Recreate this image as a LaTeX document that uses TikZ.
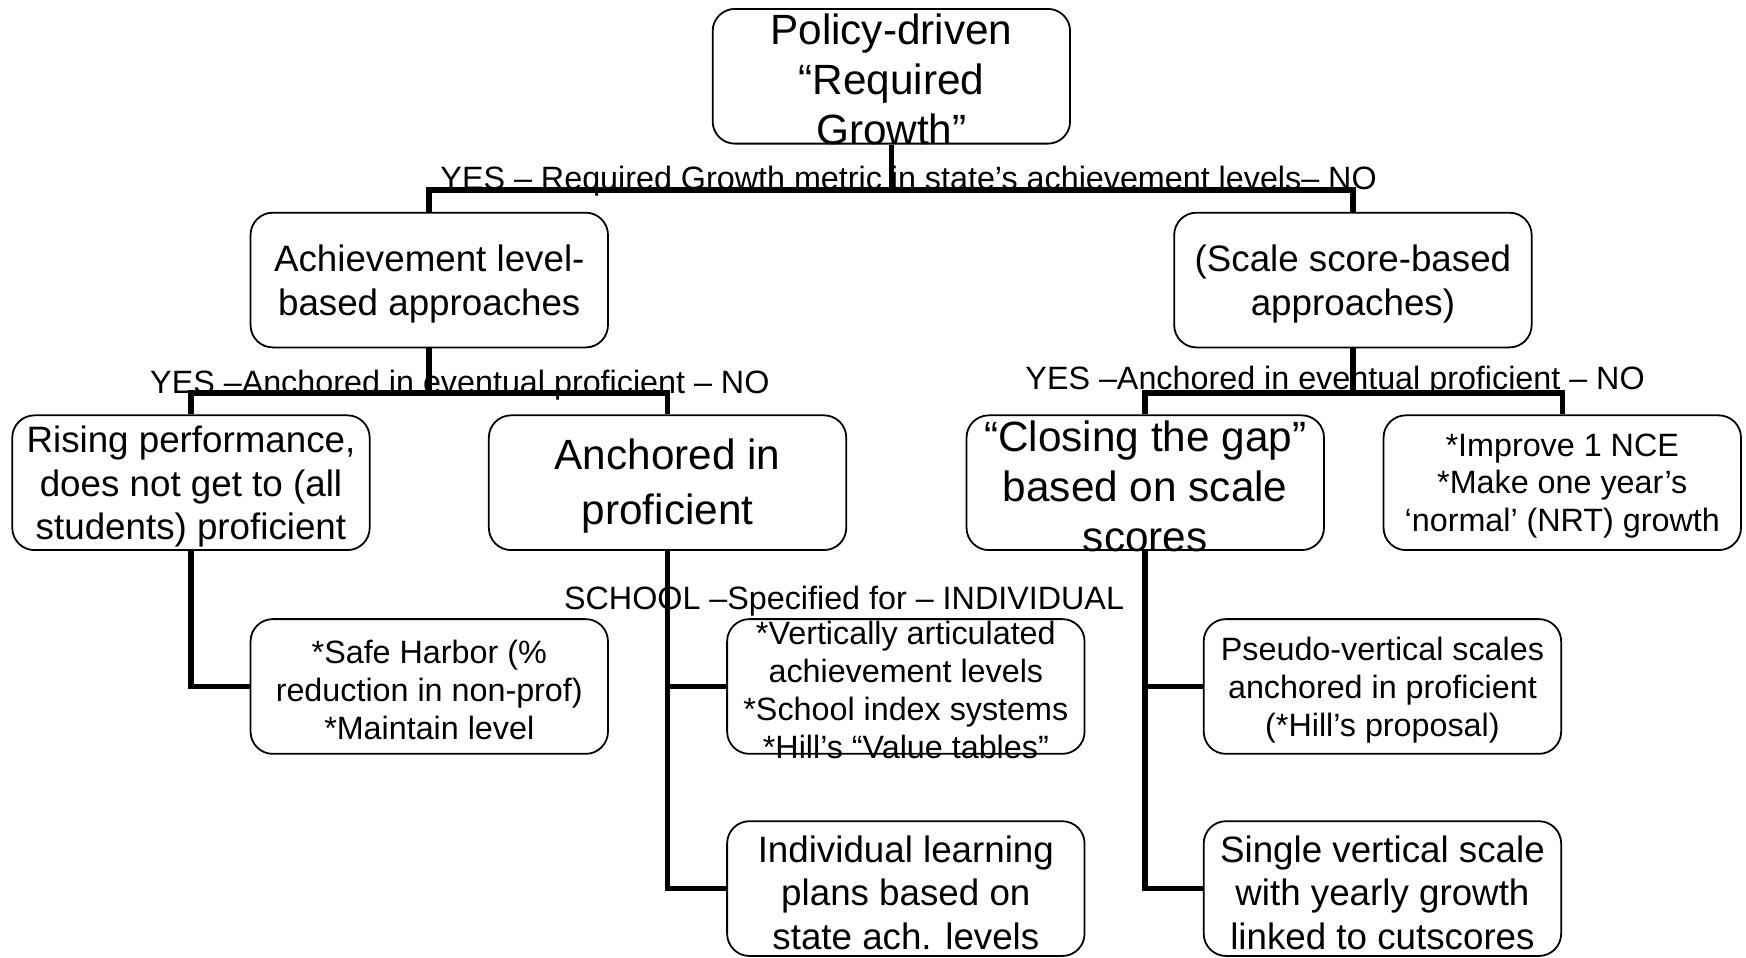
\documentclass[tikz,border=0pt]{standalone}
\usepackage{fontspec}
\setmainfont{Liberation Sans}
\usepackage{tikz}

\tikzset{
  box/.style={draw=black, line width=0.8pt, rounded corners=10pt,
    minimum width=160.5pt, minimum height=60.5pt},
  bigtxt/.style={align=center, yshift=-1.5pt, font=\fontsize{19pt}{22.5pt}\selectfont},
  medtxt/.style={align=center, yshift=-1.8pt, font=\fontsize{16.5pt}{19.5pt}\selectfont},
  smalltxt/.style={align=center, yshift=-1.5pt, font=\fontsize{14.5pt}{17pt}\selectfont},
  lbl/.style={font=\fontsize{14.5pt}{17pt}\selectfont, inner sep=0pt},
  conn/.style={line width=2.5pt}
}

\begin{document}
\begin{tikzpicture}[x=0.5pt, y=-0.5pt]
    \fill[white] (0,0) rectangle (1568,860);
    \useasboundingbox (0,0) rectangle (1568,860);
    % boxes
    \node[box] at (800.5,68.5) (top) {};
    \node[box] at (385.5,251.5) (ach) {};
    \node[box] at (1215,251.5) (scl) {};
    \node[box] at (171.5,433.5) (rise) {};
    \node[box] at (599.5,433.5) (anc) {};
    \node[box] at (1028.5,433.5) (clo) {};
    \node[box] at (1403,433.5) (imp) {};
    \node[box] at (385.5,616.5) (safe) {};
    \node[box] at (813.5,616.5) (va) {};
    \node[box] at (813.5,798) (ilp) {};
    \node[box] at (1241.5,616.5) (pseudo) {};
    \node[box] at (1241.5,798) (single) {};
    % box texts
    \node[bigtxt] at (top) (toptxt) {Policy-driven\\“Required\\Growth”};
    \node[medtxt] at (ach) (achtxt) {Achievement level-\\based approaches};
    \node[medtxt] at (scl) (scltxt) {(Scale score-based\\approaches)};
    \node[medtxt] at (rise) (risetxt) {Rising performance,\\does not get to (all\\students) proficient};
    \node[bigtxt, font=\fontsize{19pt}{25pt}\selectfont] at (anc) (anctxt) {Anchored in\\proficient};
    \node[bigtxt] at (clo) (clotxt) {“Closing the gap”\\based on scale\\scores};
    \node[smalltxt] at (imp) (imptxt) {*Improve 1 NCE\\*Make one year’s\\‘normal’ (NRT) growth};
    \node[smalltxt] at (safe) (safetxt) {*Safe Harbor (\%\\reduction in non-prof)\\*Maintain level};
    \node[smalltxt] at (va) (vatxt) {*Vertically articulated\\achievement levels\\*School index systems\\*Hill’s “Value tables”};
    \node[medtxt] at (ilp) (ilptxt) {Individual learning\\plans based on\\state ach. levels};
    \node[smalltxt] at (pseudo) (pseudotxt) {Pseudo-vertical scales\\anchored in proficient\\(*Hill’s proposal)};
    \node[medtxt] at (single) (singletxt) {Single vertical scale\\with yearly growth\\linked to cutscores};
    % branch labels
    \node[lbl] at (816,163) (q1) {YES – Required Growth metric in state’s achievement levels– NO};
    \node[lbl] at (413,346) (q2) {YES –Anchored in eventual proficient – NO};
    \node[lbl] at (1199,342) (q3) {YES –Anchored in eventual proficient – NO};
    \node[lbl] at (758,540) (q4) {SCHOOL –Specified for – INDIVIDUAL};
    % connectors
    \draw[conn] (top.south) -- ++(0,41) coordinate (j1);
    \draw[conn] (ach.north) |- (j1) -| (scl.north);
    \draw[conn] (ach.south) -- ++(0,40) coordinate (j2);
    \draw[conn] (rise.north) |- (j2) -| (anc.north);
    \draw[conn] (scl.south) -- ++(0,40) coordinate (j3);
    \draw[conn] (clo.north) |- (j3) -| (imp.north);
    \draw[conn] (rise.south) |- (safe.west);
    \draw[conn] (anc.south) |- (va.west);
    \draw[conn] (anc.south) |- (ilp.west);
    \draw[conn] (clo.south) |- (pseudo.west);
    \draw[conn] (clo.south) |- (single.west);
\end{tikzpicture}
\end{document}
